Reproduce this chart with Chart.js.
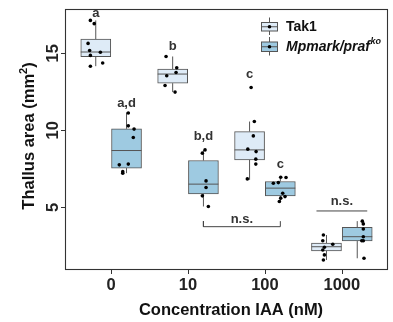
<!DOCTYPE html>
<html><head><meta charset="utf-8">
<script src="https://cdn.jsdelivr.net/npm/chart.js@4"></script>
<style>html,body{margin:0;padding:0;background:#fff}canvas{display:block}</style>
</head><body>
<canvas id="c" width="393" height="322"></canvas>
<script>
// ---- data ----
const categories = ['0', '10', '100', '1000'];
const seriesNames = ['Tak1', 'Mpmark/praf'];
const yTickValues = [5, 10, 15];

const tak1Q1 = [14.77, 13.06, 8.08, 2.18];
const tak1Median = [15.08, 13.65, 8.73, 2.45];
const tak1Q3 = [15.92, 13.97, 9.92, 2.69];
const tak1Low = [14.16, 12.48, 6.79, 1.59];
const tak1High = [17.13, 14.79, 10.57, 3.21];

const mutQ1 = [7.55, 5.88, 5.75, 2.82];
const mutMedian = [8.69, 6.51, 6.25, 3.10];
const mutQ3 = [10.10, 8.04, 6.68, 3.71];
const mutLow = [7.22, 5.06, 5.32, 1.70];
const mutHigh = [11.16, 8.73, 7.00, 4.11];

const tak1Points = [
  [17.13, 16.92, 15.64, 15.18, 14.86, 15.06, 14.16, 14.37],
  [14.79, 14.06, 13.75, 13.54, 12.91, 12.48],
  [12.78, 10.57, 9.64, 8.78, 8.62, 8.13, 7.81, 6.85],
  [3.21, 2.84, 2.61, 2.42, 2.24, 1.92, 1.59]
];
const tak1Jitter = [
  [-0.07, -0.02, -0.10, -0.08, -0.07, 0.06, -0.07, 0.09],
  [-0.086, 0.053, 0.044, -0.077, -0.099, 0.031],
  [0.02, 0.062, 0.049, -0.023, 0.085, 0.081, 0.081, -0.029],
  [-0.04, -0.048, 0.082, -0.027, -0.048, -0.027, -0.04]
];
const mutPoints = [
  [11.12, 10.29, 10.08, 9.53, 7.76, 7.81, 7.32, 7.22],
  [8.52, 8.73, 6.72, 6.29, 5.75, 5.06],
  [6.96, 6.94, 6.57, 6.61, 5.92, 5.70, 5.38, 5.60],
  [4.11, 3.93, 3.60, 3.10, 2.84, 2.84, 1.70]
];
const mutJitter = [
  [0.023, 0.023, 0.098, 0.088, -0.094, 0.023, -0.049, -0.049],
  [-0.014, 0.021, 0.034, 0.034, -0.014, 0.064],
  [0.005, 0.074, -0.091, -0.026, 0.031, 0.061, -0.013, 0.005],
  [0.066, 0.079, 0.079, 0.079, 0.059, 0.079, 0.088]
];

const tak1Letters = ['a', 'b', 'c', ''];
const tak1LetterY = [17.56, 15.44, 13.6, null];
const mutLetters = ['a,d', 'b,d', 'c', ''];
const mutLetterY = [11.72, 9.6, 7.76, null];

const bracketFrom = [1.2, 2.67];
const bracketTo = [2.2, 3.33];
const bracketY = [3.75, 4.77];
const bracketTickTop = [4.11, null];
const bracketLabel = ['n.s.', 'n.s.'];
const bracketLabelY = [4.19, 5.42];

// ---- styling ----
const DODGE = 0.2;
const HALF = 0.195;
const FONT = '"Liberation Sans", Arial, Helvetica, sans-serif';
const COL_T = '#deebf7', COL_M = '#9ecae1', EDGE = '#555555';

function boxData(q1, q3, off) {
  return categories.map((c, i) => ({ x: i + off, y: [q1[i], q3[i]] }));
}
function whiskerData(lo, q1, q3, hi, off) {
  const d = [];
  categories.forEach((c, i) => {
    const x = i + off;
    d.push({ x, y: lo[i] }, { x, y: q1[i] }, { x, y: null });
    d.push({ x, y: q3[i] }, { x, y: hi[i] }, { x, y: null });
  });
  return d;
}
function medianData(med, off) {
  const d = [];
  categories.forEach((c, i) => {
    d.push({ x: i + off - HALF, y: med[i] }, { x: i + off + HALF, y: med[i] }, { x: i + off, y: null });
  });
  return d;
}
function pointData(pts, jit, off) {
  const d = [];
  pts.forEach((arr, i) => arr.forEach((v, j) => d.push({ x: i + off + jit[i][j], y: v })));
  return d;
}
function bracketData() {
  const d = [];
  bracketFrom.forEach((f, k) => {
    const t = bracketTo[k], y = bracketY[k], top = bracketTickTop[k];
    if (top != null) {
      d.push({ x: f, y: top }, { x: f, y }, { x: t, y }, { x: t, y: top }, { x: t, y: null });
    } else {
      d.push({ x: f, y }, { x: t, y }, { x: t, y: null });
    }
  });
  return d;
}

const lineCommon = { type: 'line', borderColor: EDGE, borderWidth: 1, pointRadius: 0, spanGaps: false, fill: false, tension: 0 };

const overlay = {
  id: 'overlay',
  afterDraw(chart) {
    const ctx = chart.ctx, a = chart.chartArea;
    const xs = chart.scales.x, ys = chart.scales.y;
    ctx.save();
    // panel border
    ctx.strokeStyle = '#333333'; ctx.lineWidth = 1.1;
    ctx.strokeRect(a.left + 0.5, a.top + 0.5, a.right - a.left - 1, a.bottom - a.top - 1);
    // tick marks
    ctx.lineWidth = 1; ctx.strokeStyle = '#333333';
    yTickValues.forEach(v => {
      const y = Math.round(ys.getPixelForValue(v)) + 0.5;
      ctx.beginPath(); ctx.moveTo(a.left - 4, y); ctx.lineTo(a.left, y); ctx.stroke();
    });
    categories.forEach((c, i) => {
      const x = Math.round(xs.getPixelForValue(i)) + 0.5;
      ctx.beginPath(); ctx.moveTo(x, a.bottom); ctx.lineTo(x, a.bottom + 4); ctx.stroke();
    });
    // tick labels
    ctx.fillStyle = '#222222';
    ctx.font = 'bold 16.5px ' + FONT;
    ctx.textAlign = 'center'; ctx.textBaseline = 'middle';
    categories.forEach((c, i) => ctx.fillText(c, xs.getPixelForValue(i), 285));
    yTickValues.forEach(v => {
      ctx.save(); ctx.translate(53, ys.getPixelForValue(v)); ctx.rotate(-Math.PI / 2);
      ctx.fillText(String(v), 0, 0); ctx.restore();
    });
    // axis titles
    ctx.fillStyle = '#111111';
    ctx.font = 'bold 16.5px ' + FONT;
    ctx.fillText('Concentration IAA (nM)', 231, 310);
    ctx.save(); ctx.translate(29, 136); ctx.rotate(-Math.PI / 2);
    const t1 = 'Thallus area (mm', t2 = ')';
    const w1 = ctx.measureText(t1).width;
    ctx.font = 'bold 11px ' + FONT; const ws = ctx.measureText('2').width;
    ctx.font = 'bold 16.5px ' + FONT; const w2 = ctx.measureText(t2).width;
    const tot = w1 + ws + w2;
    ctx.textAlign = 'left';
    ctx.fillText(t1, -tot / 2, 0);
    ctx.font = 'bold 11px ' + FONT; ctx.fillText('2', -tot / 2 + w1, -5);
    ctx.font = 'bold 16.5px ' + FONT; ctx.fillText(t2, -tot / 2 + w1 + ws, 0);
    ctx.restore();
    // significance letters
    ctx.fillStyle = '#333333';
    ctx.font = 'bold 13px ' + FONT;
    ctx.textAlign = 'center';
    tak1Letters.forEach((t, i) => { if (t) ctx.fillText(t, xs.getPixelForValue(i - DODGE), ys.getPixelForValue(tak1LetterY[i])); });
    mutLetters.forEach((t, i) => { if (t) ctx.fillText(t, xs.getPixelForValue(i + DODGE), ys.getPixelForValue(mutLetterY[i])); });
    bracketLabel.forEach((t, k) => ctx.fillText(t, xs.getPixelForValue((bracketFrom[k] + bracketTo[k]) / 2), ys.getPixelForValue(bracketLabelY[k])));
    // legend
    const keys = [{ y0: 22.5, y1: 31, fill: COL_T }, { y0: 42, y1: 51.5, fill: COL_M }];
    keys.forEach((k, n) => {
      const x0 = 261.5, x1 = 277.5, cx = 269.5, cy = (k.y0 + k.y1) / 2;
      ctx.strokeStyle = EDGE; ctx.lineWidth = 1;
      ctx.beginPath(); ctx.moveTo(cx, k.y0 - 5); ctx.lineTo(cx, k.y0); ctx.moveTo(cx, k.y1); ctx.lineTo(cx, k.y1 + 4); ctx.stroke();
      ctx.fillStyle = k.fill; ctx.fillRect(x0, k.y0, x1 - x0, k.y1 - k.y0);
      ctx.strokeRect(x0, k.y0, x1 - x0, k.y1 - k.y0);
      ctx.beginPath(); ctx.moveTo(x0, cy); ctx.lineTo(x1, cy); ctx.stroke();
      ctx.fillStyle = '#000'; ctx.beginPath(); ctx.arc(cx, cy, 1.8, 0, Math.PI * 2); ctx.fill();
    });
    ctx.fillStyle = '#111111'; ctx.textAlign = 'left';
    ctx.font = 'bold 14px ' + FONT;
    ctx.fillText(seriesNames[0], 286, 27);
    ctx.font = 'italic bold 14px ' + FONT;
    ctx.fillText(seriesNames[1], 286, 47);
    const wm = ctx.measureText(seriesNames[1]).width;
    ctx.font = 'italic bold 9px ' + FONT;
    ctx.fillText('ko', 286 + wm + 0.5, 42);
    ctx.restore();
  }
};

new Chart(document.getElementById('c'), {
  type: 'bar',
  data: {
    datasets: [
      { type: 'bar', label: seriesNames[0], data: boxData(tak1Q1, tak1Q3, -DODGE), backgroundColor: COL_T, borderColor: EDGE, borderWidth: 1, borderSkipped: false, grouped: false, categoryPercentage: 1, barPercentage: 1, maxBarThickness: 30, order: 5 },
      { type: 'bar', label: seriesNames[1], data: boxData(mutQ1, mutQ3, DODGE), backgroundColor: COL_M, borderColor: EDGE, borderWidth: 1, borderSkipped: false, grouped: false, categoryPercentage: 1, barPercentage: 1, maxBarThickness: 30, order: 5 },
      Object.assign({ label: 'w1', data: whiskerData(tak1Low, tak1Q1, tak1Q3, tak1High, -DODGE), order: 4 }, lineCommon),
      Object.assign({ label: 'w2', data: whiskerData(mutLow, mutQ1, mutQ3, mutHigh, DODGE), order: 4 }, lineCommon),
      Object.assign({ label: 'm1', data: medianData(tak1Median, -DODGE), order: 3 }, lineCommon),
      Object.assign({ label: 'm2', data: medianData(mutMedian, DODGE), order: 3 }, lineCommon),
      Object.assign({ label: 'br', data: bracketData(), order: 3 }, lineCommon, { borderColor: '#444444' }),
      { type: 'scatter', label: 'p1', data: pointData(tak1Points, tak1Jitter, -DODGE), pointRadius: 1.8, pointBackgroundColor: '#000', pointBorderWidth: 0, order: 1 },
      { type: 'scatter', label: 'p2', data: pointData(mutPoints, mutJitter, DODGE), pointRadius: 1.8, pointBackgroundColor: '#000', pointBorderWidth: 0, order: 1 }
    ]
  },
  options: {
    responsive: false, devicePixelRatio: 1, animation: false,
    layout: { padding: { left: 0, top: 9, right: 5, bottom: 0 } },
    plugins: { legend: { display: false }, tooltip: { enabled: false } },
    scales: {
      x: {
        type: 'linear', min: -0.6, max: 3.6, offset: false,
        grid: { display: false, offset: false }, border: { display: false }, ticks: { display: false },
        afterBuildTicks: s => { s.ticks = categories.map((c, i) => ({ value: i })); },
        afterFit: s => { s.height = 52; }
      },
      y: {
        type: 'linear', min: 0.94, max: 17.87,
        grid: { display: false }, border: { display: false }, ticks: { display: false },
        afterBuildTicks: s => { s.ticks = yTickValues.map(v => ({ value: v })); },
        afterFit: s => { s.width = 65; }
      }
    }
  },
  plugins: [overlay]
});
</script>
</body></html>
